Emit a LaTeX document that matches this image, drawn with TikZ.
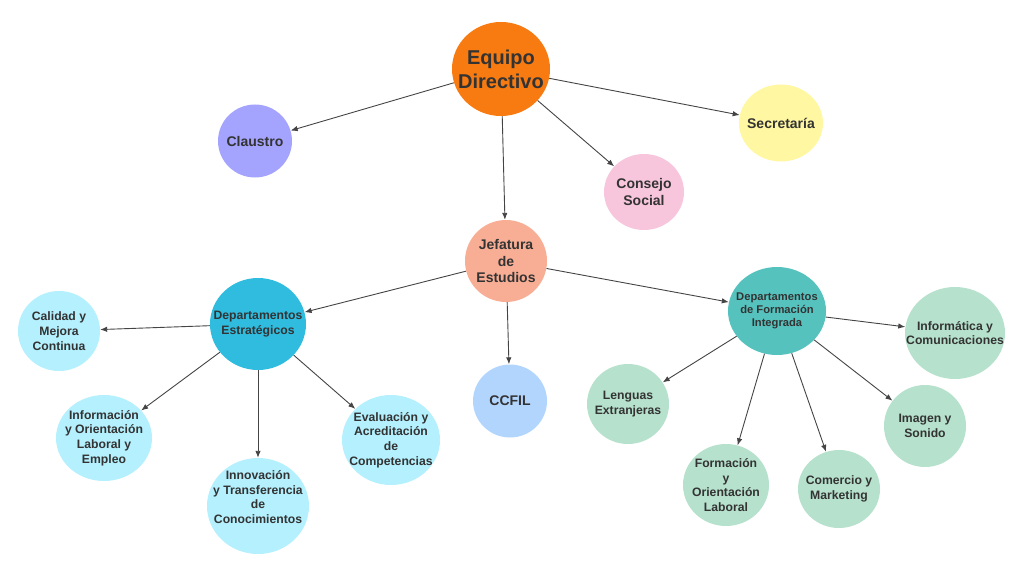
\documentclass[tikz,border=0pt]{standalone}
\usepackage{fontspec}
\setmainfont{Liberation Sans}
\usetikzlibrary{shapes.geometric}
\usetikzlibrary{arrows.meta}
\definecolor{txt}{HTML}{333333}
\definecolor{lc}{HTML}{444444}
\definecolor{cdir}{HTML}{F77B11}
\definecolor{cclau}{HTML}{A4A4FE}
\definecolor{csec}{HTML}{FFF7A1}
\definecolor{ccons}{HTML}{F7C6DC}
\definecolor{cjef}{HTML}{F8AE95}
\definecolor{cdepe}{HTML}{2FBCDF}
\definecolor{cleafe}{HTML}{B4F0FE}
\definecolor{cccfil}{HTML}{B2D5FE}
\definecolor{cdepf}{HTML}{56C2BE}
\definecolor{cleaff}{HTML}{B6E1CD}

\begin{document}
\begin{tikzpicture}[x=1pt,y=-1pt,every node/.style={ellipse,inner sep=-22pt,align=center,text=txt,font=\bfseries\fontsize{12.2}{14.7}\selectfont},mid/.style={font=\bfseries\fontsize{14}{16.7}\selectfont},arr/.style={-{Latex[length=7pt,width=5.5pt]},draw=lc,line width=0.9pt}]
\useasboundingbox (0,0) rectangle (1024,572);
  \node (1) at (501,69)[fill=cdir,minimum width=98pt,minimum height=94pt,font=\bfseries\fontsize{20}{24}\selectfont]{Equipo\\Directivo};
  \node (2) at (255,141)[mid,fill=cclau,minimum width=74pt,minimum height=73pt]{Claustro};
  \node (3) at (781,123)[mid,fill=csec,minimum width=84pt,minimum height=77pt]{Secretaría};
  \node (4) at (644,192)[mid,fill=ccons,minimum width=80pt,minimum height=76pt]{Consejo\\Social};
  \node (5) at (506,261)[mid,fill=cjef,minimum width=82pt,minimum height=82pt]{Jefatura\\de\\Estudios};
  \node (6) at (258,324)[fill=cdepe,minimum width=96pt,minimum height=92pt,font=\bfseries\fontsize{12.2}{15}\selectfont]{Departamentos\\Estratégicos};
  \node (7) at (510,401)[mid,fill=cccfil,minimum width=74pt,minimum height=73pt]{CCFIL};
  \node (8) at (777,311)[fill=cdepf,minimum width=98pt,minimum height=88pt,font=\bfseries\fontsize{11.2}{13.3}\selectfont]{Departamentos\\de Formación\\Integrada};
  \node (9) at (59,331)[fill=cleafe,minimum width=82pt,minimum height=80pt]{Calidad y\\Mejora\\Continua};
  \node (10) at (104,438)[fill=cleafe,minimum width=96pt,minimum height=86pt]{Información\\y Orientación\\Laboral y\\Empleo};
  \node (11) at (258,506)[fill=cleafe,minimum width=102pt,minimum height=96pt]{Innovación\\y Transferencia\\de\\Conocimientos\\[3pt]\mbox{}};
  \node (12) at (391,440)[fill=cleafe,minimum width=98pt,minimum height=90pt]{Evaluación y\\Acreditación\\de\\Competencias};
  \node (13) at (955,333)[fill=cleaff,minimum width=100pt,minimum height=92pt]{Informática y\\Comunicaciones};
  \node (14) at (628,404)[fill=cleaff,minimum width=82pt,minimum height=80pt]{Lenguas\\Extranjeras};
  \node (15) at (726,485)[fill=cleaff,minimum width=86pt,minimum height=82pt]{Formación\\y\\Orientación\\Laboral};
  \node (16) at (839,489)[fill=cleaff,minimum width=82pt,minimum height=78pt]{Comercio y\\Marketing};
  \node (17) at (925,426)[fill=cleaff,minimum width=82pt,minimum height=82pt]{Imagen y\\Sonido};
  \draw[arr](1)--(2);
  \draw[arr](1)--(3);
  \draw[arr](1)--(4);
  \draw[arr](1)--(5);
  \draw[arr](5)--(6);
  \draw[arr](5)--(7);
  \draw[arr](5)--(8);
  \draw[arr](6)--(9);
  \draw[arr](6)--(10);
  \draw[arr](6)--(11);
  \draw[arr](6)--(12);
  \draw[arr](8)--(13);
  \draw[arr](8)--(14);
  \draw[arr](8)--(15);
  \draw[arr](8)--(16);
  \draw[arr](8)--(17);
\end{tikzpicture}
\end{document}
